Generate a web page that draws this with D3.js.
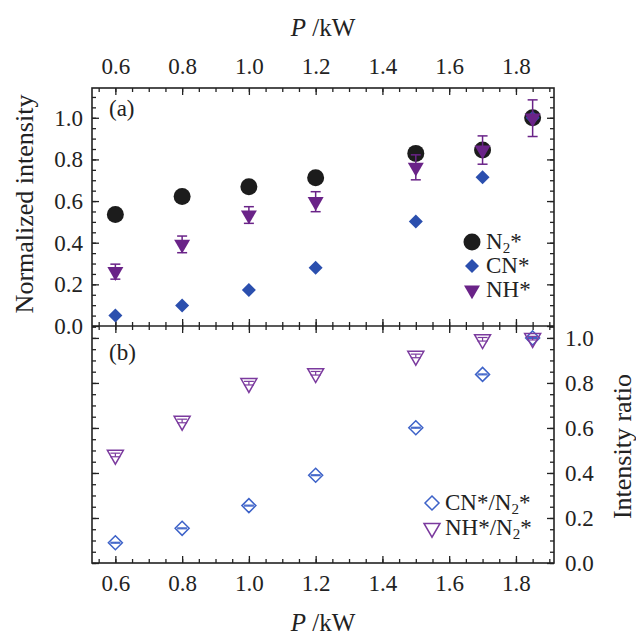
<!DOCTYPE html>
<html>
<head>
<meta charset="utf-8">
<script src="https://cdn.jsdelivr.net/npm/d3@7"></script>
<style>
    body { margin: 0; background: #fff; }
    svg text { font-family: "Liberation Serif", "Times New Roman", Times, serif; }
</style>
</head>
<body>
<svg id="chart_svg" width="636" height="639"></svg>
<script>
// power values (kW)
const power = [0.6, 0.8, 1.0, 1.2, 1.5, 1.7, 1.85];

// panel (a): normalized emission intensity
const n2_intensity = [0.536, 0.622, 0.669, 0.712, 0.829, 0.845, 1.0];
const cn_intensity = [0.051, 0.099, 0.173, 0.280, 0.502, 0.714, 1.0];
const nh_intensity = [0.261, 0.392, 0.533, 0.597, 0.762, 0.845, 0.998];
const nh_error = [0.036, 0.040, 0.040, 0.048, 0.060, 0.068, 0.088];

// panel (b): intensity ratios
const cn_ratio = [0.090, 0.154, 0.255, 0.390, 0.601, 0.838, 1.0];
const cn_ratio_error = [0.002, 0.002, 0.002, 0.002, 0.002, 0.002, 0.002];
const nh_ratio = [0.480, 0.631, 0.799, 0.843, 0.920, 0.994, 0.999];
const nh_ratio_error = [0.008, 0.008, 0.008, 0.008, 0.008, 0.008, 0.008];

const x_ticks = [0.6, 0.8, 1.0, 1.2, 1.4, 1.6, 1.8];
const y_ticks = [0.0, 0.2, 0.4, 0.6, 0.8, 1.0];

const colors = {
    n2: '#1c1c1c',
    cn: '#2b4fae',
    nh: '#6a2388',
    cn_open: '#3d62c8',
    nh_open: '#7b3a9e',
};

/**
 * Frame of both panels.
 */
const frame = { left: 92, right: 554, top: 88, middle: 326, bottom: 563 };

let svg = d3.select('#chart_svg');

const xScale = d3.scaleLinear().domain([0.53, 1.914]).range([frame.left, frame.right]);
const yScaleA = d3.scaleLinear().domain([0, 1.143]).range([frame.middle, frame.top]);
const yScaleB = d3.scaleLinear().domain([0, 1.053]).range([frame.bottom, frame.middle]);

const x_minor = d3.range(0.55, 1.91, 0.05).map((d) => +d.toFixed(2));
const ya_minor = d3.range(0, 1.14, 0.05).map((d) => +d.toFixed(2));
const yb_minor = d3.range(0, 1.051, 0.05).map((d) => +d.toFixed(2));

const fmt = d3.format('.1f');
const major = 7;
const minor = 4;

/**
 * Draws one axis with major and minor ticks pointing inward.
 */
function draw_axis(axisFn, scale, transform, ticks, minors, labels, padding) {
    let g = svg.append('g').attr('transform', transform);
    g.call(axisFn(scale).tickValues(minors).tickSize(-minor).tickFormat(''));
    g.select('.domain').remove();
    let g2 = svg.append('g').attr('transform', transform);
    g2.call(
        axisFn(scale)
            .tickValues(ticks)
            .tickSize(-major)
            .tickPadding(padding)
            .tickFormat(labels ? fmt : '')
    );
    g2.select('.domain').remove();
    g.attr('font-family', null);
    g2.attr('font-family', null).attr('font-size', 23);
    svg.selectAll('.tick line').attr('stroke', '#222').attr('stroke-width', 1.3);
    g2.selectAll('text').attr('fill', '#222');
}

// x axes
draw_axis(d3.axisTop, xScale, `translate(0,${frame.top})`, x_ticks, x_minor, true, 14);
draw_axis(d3.axisBottom, xScale, `translate(0,${frame.middle})`, x_ticks, x_minor, false, 0);
draw_axis(d3.axisTop, xScale, `translate(0,${frame.middle})`, x_ticks, x_minor, false, 0);
draw_axis(d3.axisBottom, xScale, `translate(0,${frame.bottom})`, x_ticks, x_minor, true, 12);

// y axes panel (a)
draw_axis(d3.axisLeft, yScaleA, `translate(${frame.left},0)`, y_ticks, ya_minor, true, 9);
draw_axis(d3.axisRight, yScaleA, `translate(${frame.right},0)`, y_ticks, ya_minor, false, 0);

// y axes panel (b)
draw_axis(d3.axisLeft, yScaleB, `translate(${frame.left},0)`, y_ticks, yb_minor, false, 0);
draw_axis(d3.axisRight, yScaleB, `translate(${frame.right},0)`, y_ticks, yb_minor, true, 11);

/**
 * Frames
 */
svg.append('rect')
    .attr('x', frame.left).attr('y', frame.top)
    .attr('width', frame.right - frame.left).attr('height', frame.bottom - frame.top)
    .attr('fill', 'none').attr('stroke', '#222').attr('stroke-width', 1.6);
svg.append('line')
    .attr('x1', frame.left).attr('x2', frame.right)
    .attr('y1', frame.middle).attr('y2', frame.middle)
    .attr('stroke', '#222').attr('stroke-width', 1.6);

/**
 * Marker shapes
 */
const diamond = (h) => `M0,${-h}L${h},0L0,${h}L${-h},0Z`;
const tri_down = (w) => {
    const hgt = w * Math.sqrt(3) / 2;
    return `M${-w / 2},${-hgt / 3}L${w / 2},${-hgt / 3}L0,${2 * hgt / 3}Z`;
};

function error_bars(g, xs, ys, errs, scale, color, cap, width) {
    let eb = g.selectAll(null).data(xs.map((d, i) => ({ x: d, y: ys[i], e: errs[i] })))
        .enter().append('g')
        .attr('stroke', color).attr('stroke-width', width);
    eb.append('line')
        .attr('x1', (d) => xScale(d.x)).attr('x2', (d) => xScale(d.x))
        .attr('y1', (d) => scale(d.y - d.e)).attr('y2', (d) => scale(d.y + d.e));
    eb.append('line')
        .attr('x1', (d) => xScale(d.x) - cap).attr('x2', (d) => xScale(d.x) + cap)
        .attr('y1', (d) => scale(d.y - d.e)).attr('y2', (d) => scale(d.y - d.e));
    eb.append('line')
        .attr('x1', (d) => xScale(d.x) - cap).attr('x2', (d) => xScale(d.x) + cap)
        .attr('y1', (d) => scale(d.y + d.e)).attr('y2', (d) => scale(d.y + d.e));
}

/**
 * Panel (a)
 */
let g_a = svg.append('g');

g_a.selectAll('.n2').data(power).enter().append('circle')
    .attr('cx', (d) => xScale(d))
    .attr('cy', (d, i) => yScaleA(n2_intensity[i]))
    .attr('r', 8.5).attr('fill', colors.n2);

g_a.selectAll('.cn').data(power).enter().append('path')
    .attr('d', diamond(7))
    .attr('transform', (d, i) => `translate(${xScale(d)},${yScaleA(cn_intensity[i])})`)
    .attr('fill', colors.cn);

error_bars(g_a, power, nh_intensity, nh_error, yScaleA, colors.nh, 5, 1.5);

g_a.selectAll('.nh').data(power).enter().append('path')
    .attr('d', tri_down(16))
    .attr('transform', (d, i) => `translate(${xScale(d)},${yScaleA(nh_intensity[i])})`)
    .attr('fill', colors.nh);

/**
 * Panel (b)
 */
let g_b = svg.append('g');

g_b.selectAll('.cnr').data(power).enter().append('path')
    .attr('d', diamond(7))
    .attr('transform', (d, i) => `translate(${xScale(d)},${yScaleB(cn_ratio[i])})`)
    .attr('fill', 'none').attr('stroke', colors.cn_open).attr('stroke-width', 1.5);
error_bars(g_b, power, cn_ratio, cn_ratio_error, yScaleB, colors.cn_open, 5, 1.2);

g_b.selectAll('.nhr').data(power).enter().append('path')
    .attr('d', tri_down(16))
    .attr('transform', (d, i) => `translate(${xScale(d)},${yScaleB(nh_ratio[i])})`)
    .attr('fill', 'none').attr('stroke', colors.nh_open).attr('stroke-width', 1.5);
error_bars(g_b, power, nh_ratio, nh_ratio_error, yScaleB, colors.nh_open, 5, 1.2);

/**
 * Legends
 */
function sub_label(sel, parts) {
    parts.forEach((p) => {
        let t = sel.append('tspan').text(p.t);
        if (p.sub) t.attr('font-size', 15).attr('dy', 4);
        if (p.up) t.attr('dy', -4);
    });
}

const legend_a = [
    { parts: [{ t: 'N' }, { t: '2', sub: true }, { t: '*', up: true }], mark: 'n2' },
    { parts: [{ t: 'CN*' }], mark: 'cn' },
    { parts: [{ t: 'NH*' }], mark: 'nh' },
];
legend_a.forEach((d, i) => {
    const ly = 242 + i * 24;
    if (d.mark === 'n2') svg.append('circle').attr('cx', 472).attr('cy', ly).attr('r', 8.5).attr('fill', colors.n2);
    if (d.mark === 'cn') svg.append('path').attr('d', diamond(7)).attr('transform', `translate(472,${ly})`).attr('fill', colors.cn);
    if (d.mark === 'nh') svg.append('path').attr('d', tri_down(16)).attr('transform', `translate(472,${ly})`).attr('fill', colors.nh);
    let t = svg.append('text').attr('x', 486).attr('y', ly + 7).attr('font-size', 23).attr('fill', '#222');
    sub_label(t, d.parts);
});

const legend_b = [
    { parts: [{ t: 'CN*/N' }, { t: '2', sub: true }, { t: '*', up: true }], mark: 'cn' },
    { parts: [{ t: 'NH*/N' }, { t: '2', sub: true }, { t: '*', up: true }], mark: 'nh' },
];
legend_b.forEach((d, i) => {
    const ly = 503 + i * 25;
    if (d.mark === 'cn') svg.append('path').attr('d', diamond(7)).attr('transform', `translate(432,${ly})`)
        .attr('fill', 'none').attr('stroke', colors.cn_open).attr('stroke-width', 1.5);
    if (d.mark === 'nh') svg.append('path').attr('d', tri_down(16)).attr('transform', `translate(432,${ly})`)
        .attr('fill', 'none').attr('stroke', colors.nh_open).attr('stroke-width', 1.5);
    let t = svg.append('text').attr('x', 445).attr('y', ly + 7).attr('font-size', 23).attr('fill', '#222');
    sub_label(t, d.parts);
});

/**
 * Panel letters and axis titles
 */
svg.append('text').attr('x', 109).attr('y', 116).attr('font-size', 23).attr('fill', '#222').text('(a)');
svg.append('text').attr('x', 109).attr('y', 360).attr('font-size', 23).attr('fill', '#222').text('(b)');

function p_title(y) {
    let t = svg.append('text').attr('x', (frame.left + frame.right) / 2).attr('y', y)
        .attr('text-anchor', 'middle').attr('font-size', 25).attr('fill', '#222');
    t.append('tspan').attr('font-style', 'italic').text('P');
    t.append('tspan').text(' /kW');
}
p_title(36);
p_title(631);

svg.append('text')
    .attr('transform', `translate(33,${(frame.top + frame.middle) / 2 - 3}) rotate(-90)`)
    .attr('text-anchor', 'middle').attr('font-size', 26).attr('fill', '#222')
    .text('Normalized intensity');

svg.append('text')
    .attr('transform', `translate(631,${(frame.middle + frame.bottom) / 2 + 2}) rotate(-90)`)
    .attr('text-anchor', 'middle').attr('font-size', 26).attr('fill', '#222')
    .text('Intensity ratio');
</script>
</body>
</html>
